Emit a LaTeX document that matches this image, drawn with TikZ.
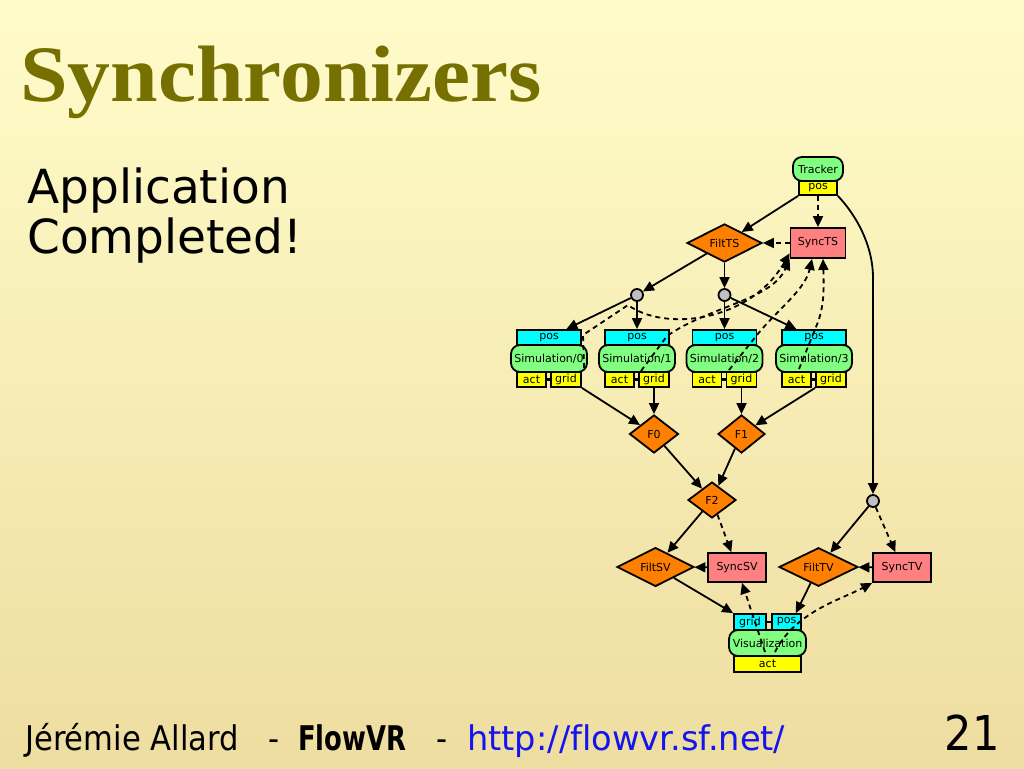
\documentclass[tikz,border=0pt]{standalone}
\usepackage{fontspec}
\usetikzlibrary{shapes.geometric,arrows.meta}
\setmainfont{DejaVu Sans}
\newfontfamily\titlefont[FakeStretch=1.07]{Liberation Serif}
\newfontfamily\subfont{DejaVu Sans}
\newfontfamily\footfont[FakeStretch=0.9]{DejaVu Sans}
\newfontfamily\footbold[FakeStretch=0.76]{DejaVu Sans}
\newfontfamily\urlfont[FakeStretch=0.99,Ligatures=NoCommon]{DejaVu Sans}
\newfontfamily\dfont{DejaVu Sans}
\definecolor{bgtop}{RGB}{255,252,202}
\definecolor{bgbot}{RGB}{238,221,160}
\definecolor{titleolive}{RGB}{118,112,0}
\definecolor{urlblue}{RGB}{20,20,240}
\definecolor{portyellow}{RGB}{255,255,0}
\definecolor{portcyan}{RGB}{0,255,255}
\definecolor{modgreen}{RGB}{128,255,128}
\definecolor{syncpink}{RGB}{255,128,128}
\definecolor{filtorange}{RGB}{255,128,0}
\definecolor{jgray}{RGB}{192,192,192}
\tikzset{
 nd/.style={draw, line width=1.8pt, inner sep=0pt, font=\dfont\fontsize{11}{12}\selectfont},
 port/.style={nd, rectangle, minimum height=15pt},
 ypt/.style={port, fill=portyellow},
 cpt/.style={port, fill=portcyan},
 modbox/.style={nd, rectangle, rounded corners=9pt, fill=modgreen},
 syncbox/.style={nd, rectangle, fill=syncpink},
 filtbox/.style={nd, diamond, fill=filtorange},
 jct/.style={nd, circle, fill=jgray, minimum size=12pt},
 arr/.style={-{Triangle[length=11pt,width=10pt]}, line width=1.8pt},
 darr/.style={arr, dash pattern=on 5pt off 4pt},
 link/.style={line width=2.5pt},
 foot/.style={anchor=base west, inner sep=0pt, font=\footfont\fontsize{34}{36}\selectfont},
}
\begin{document}
\begin{tikzpicture}[x=1pt,y=-1pt]
\shade[top color=bgtop, bottom color=bgbot] (0,0) rectangle (1024,768);
\useasboundingbox (0,0) rectangle (1024,768);

% titles
\node[anchor=base west, inner sep=0pt, text=titleolive, font=\titlefont\bfseries\fontsize{80}{90}\selectfont] (title) at (20,101) {Synchronizers};
\node[anchor=base west, inner sep=0pt, font=\subfont\fontsize{47}{50}\selectfont] (app) at (27,203) {Application};
\node[anchor=base west, inner sep=0pt, font=\subfont\fontsize{47}{50}\selectfont] (comp) at (27,253) {Completed!};

% footer
\node[foot] (author) at (25,750) {Jérémie Allard};
\node[foot] (dashA) at (268,750) {-};
\node[foot, font=\footbold\bfseries\fontsize{34}{36}\selectfont] (flow) at (298,750) {FlowVR};
\node[foot] (dashB) at (436,750) {-};
\node[foot, font=\urlfont\fontsize{34}{36}\selectfont, text=urlblue] (url) at (467,750) {http://flowvr.sf.net/};
\node[anchor=base east, inner sep=0pt, font=\footfont\fontsize{48}{50}\selectfont] (pnum) at (1000,750) {21};

% diagram nodes
\node[modbox, minimum width=50pt, minimum height=24pt] (trk) at (818,169) {Tracker};
\node[ypt, minimum width=38pt, minimum height=14pt] (trkpos) at (818,188) {pos};
\node[syncbox, minimum width=55pt, minimum height=30pt] (synts) at (818,243) {SyncTS};
\node[filtbox, minimum width=75pt, minimum height=38pt] (filtts) at (724.5,243) {FiltTS};
\node[jct] (j1) at (637,295) {};
\node[jct] (j2) at (724.5,295) {};
\node[jct] (j3) at (873,501) {};

\node[filtbox, minimum width=49pt, minimum height=38pt] (f0) at (654,434) {F0};
\node[filtbox, minimum width=47pt, minimum height=38pt] (f1) at (741.5,434) {F1};
\node[filtbox, minimum width=48pt, minimum height=36pt] (f2) at (712,500) {F2};

\foreach \i/\cx in {0/549,1/637,2/724.5,3/814}{
  \node[modbox, minimum width=76pt, minimum height=27pt] (s\i-mod) at (\cx,358.5) {Simulation/\i};
  \node[cpt, minimum width=64pt] (s\i-pos) at (\cx,337.5) {pos};
  \node[ypt, minimum width=29pt] (s\i-act) at (\cx-17.5,379.5) {act};
  \node[ypt, minimum width=30pt] (s\i-grid) at (\cx+17,379.5) {grid};
  \draw[link] (s\i-act.east) -- (s\i-grid.west);
}

\node[filtbox, minimum width=77pt, minimum height=38pt] (filtsv) at (655.5,567) {FiltSV};
\node[syncbox, minimum width=58pt, minimum height=29pt] (syncsv) at (737,567.5) {SyncSV};
\node[filtbox, minimum width=79pt, minimum height=38pt] (filttv) at (818.5,567) {FiltTV};
\node[syncbox, minimum width=58pt, minimum height=29pt] (synctv) at (902,567.5) {SyncTV};
\node[modbox, minimum width=77pt, minimum height=26pt] (vis) at (767.5,643) {Visualization};
\node[cpt, minimum width=32pt, minimum height=16pt] (vgrid) at (750,622) {grid};
\node[cpt, minimum width=29pt, minimum height=16pt] (vpos) at (786.5,622) {pos};
\node[ypt, minimum width=67pt, minimum height=16pt] (vact) at (767.5,664) {act};
\draw[link] (vgrid.east) -- (vpos.west);

% connectors
\coordinate (j3bend) at (873,278);
\draw[arr] (trkpos.south west) -- (filtts);
\draw[darr] (trkpos) -- (synts);
\draw[line width=1.8pt] (trkpos.south east) .. controls (856,215) and (873,245) .. (j3bend);
\draw[arr] (j3bend) -- (j3);
\draw[darr] (synts) -- (filtts);
\draw[arr] (filtts) -- (j1);
\draw[arr] (filtts) -- (j2);
\draw[arr] (j1) -- (s0-pos);
\draw[arr] (j1) -- (s1-pos);
\draw[arr] (j2) -- (s2-pos);
\draw[arr] (j2) -- (s3-pos);
\draw[arr] (s0-grid.south east) -- (f0);
\draw[arr] (s1-grid) -- (f0);
\draw[arr] (s2-grid) -- (f1);
\draw[arr] (s3-grid.south west) -- (f1);
\draw[arr] (f0) -- (f2);
\draw[arr] (f1) -- (f2);
\draw[arr] (f2) -- (filtsv);
\draw[darr] (f2) -- (syncsv);
\draw[darr] (syncsv) -- (filtsv);
\draw[arr] (j3) -- (filttv);
\draw[darr] (j3) -- (synctv);
\draw[darr] (synctv) -- (filttv);
\draw[arr] (filtsv) -- (vgrid.north west);
\draw[arr] (filttv) -- ([xshift=-6pt]vpos.north east);

% dashed feedback to synchronizers
\coordinate (v1) at (765,652);
\coordinate (v2) at (775,652);
\draw[darr] (v1) -- ([xshift=5pt]syncsv.south);
\draw[darr] (v2) .. controls (795,612) and (840,600) .. (synctv.south west);

\coordinate (d0) at (584,368);
\coordinate (d1) at (641,371);
\coordinate (d2) at (729,370);
\coordinate (d3) at (799,369);
\draw[darr] (d0) -- (583,335) -- (628,305) .. controls (665,332) and (750,322) .. (synts.200);
\draw[darr] (d1) -- (667,336) .. controls (710,306) and (772,300) .. (synts.south west);
\draw[darr] (d2) -- (757,335) .. controls (777,310) and (805,290) .. ([xshift=-6pt]synts.south);
\draw[darr] (d3) -- (818,322) .. controls (824,305) and (824,290) .. ([xshift=5pt]synts.south);
\end{tikzpicture}
\end{document}
